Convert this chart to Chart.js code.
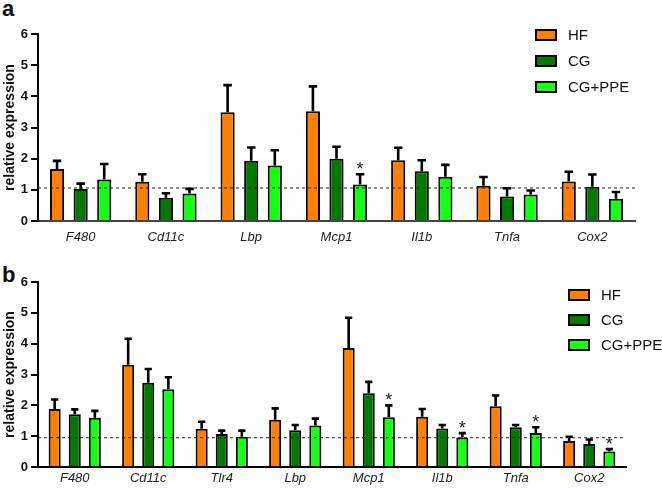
<!DOCTYPE html>
<html>
<head>
<meta charset="utf-8">
<script src="https://cdn.jsdelivr.net/npm/chart.js@4.4.1/dist/chart.umd.min.js"></script>
<style>
  html, body { margin: 0; padding: 0; background: #fff; }
  #wrap { position: relative; width: 662px; height: 490px; overflow: hidden; }
  .panel { position: absolute; left: 0; width: 662px; }
  .letter { position: absolute; font: bold 22px "Liberation Sans", Arial, sans-serif; color: #111; }
</style>
</head>
<body>
<div id="wrap">
  <div class="letter" style="left:2px;top:-4px;">a</div>
  <div class="panel" style="top:0;height:250px;"><canvas id="chartA" width="662" height="250"></canvas></div>
  <div class="letter" style="left:2px;top:262px;">b</div>
  <div class="panel" style="top:250px;height:240px;"><canvas id="chartB" width="662" height="240"></canvas></div>
</div>
<script>
// panel a
const genesA = ["F480", "Cd11c", "Lbp", "Mcp1", "Il1b", "Tnfa", "Cox2"];
const hfA = [1.67, 1.26, 3.49, 3.52, 1.95, 1.13, 1.27];
const hfErrA = [0.26, 0.24, 0.87, 0.8, 0.4, 0.28, 0.31];
const cgA = [1.03, 0.75, 1.93, 2.0, 1.6, 0.79, 1.1];
const cgErrA = [0.17, 0.14, 0.43, 0.38, 0.35, 0.26, 0.39];
const ppeA = [1.33, 0.88, 1.78, 1.17, 1.42, 0.85, 0.71];
const ppeErrA = [0.5, 0.15, 0.49, 0.33, 0.38, 0.13, 0.22];
const ppeSigA = [false, false, false, true, false, false, false];
const refLineA = 1.06;

// panel b
const genesB = ["F480", "Cd11c", "Tlr4", "Lbp", "Mcp1", "Il1b", "Tnfa", "Cox2"];
const hfB = [1.88, 3.32, 1.24, 1.53, 3.86, 1.63, 1.97, 0.84];
const hfErrB = [0.31, 0.84, 0.23, 0.37, 0.98, 0.25, 0.35, 0.14];
const cgB = [1.71, 2.73, 1.07, 1.19, 2.39, 1.25, 1.29, 0.75];
const cgErrB = [0.16, 0.45, 0.11, 0.17, 0.37, 0.11, 0.07, 0.14];
const ppeB = [1.6, 2.52, 0.98, 1.35, 1.61, 0.96, 1.1, 0.5];
const ppeErrB = [0.22, 0.39, 0.2, 0.22, 0.39, 0.14, 0.19, 0.08];
const ppeSigB = [false, false, false, false, true, true, true, true];
const refLineB = 0.95;

const yTicks = [0, 1, 2, 3, 4, 5, 6];

const FONT = '"Liberation Sans", Arial, sans-serif';
const ORANGE = "#ff8000";
const DARK = "#007a00";
const LIME = "#14ff14";

// error bars (upper half only), asterisks, dashed reference line
const extrasPlugin = {
  id: "extras",
  afterDatasetsDraw(chart, args, opts) {
    const ctx = chart.ctx;
    const y = chart.scales.y;
    const area = chart.chartArea;
    ctx.save();
    chart.data.datasets.forEach((ds, di) => {
      const meta = chart.getDatasetMeta(di);
      meta.data.forEach((bar, i) => {
        const top = y.getPixelForValue(ds.data[i] + ds.errors[i]);
        const half = bar.width * 0.3;
        ctx.strokeStyle = "#000";
        ctx.lineWidth = 2.6;
        ctx.beginPath();
        ctx.moveTo(bar.x, bar.y);
        ctx.lineTo(bar.x, top);
        ctx.moveTo(bar.x - half, top);
        ctx.lineTo(bar.x + half, top);
        ctx.stroke();
        if (ds.sig && ds.sig[i]) {
          ctx.fillStyle = "#222";
          ctx.font = "18px " + FONT;
          ctx.textAlign = "center";
          ctx.textBaseline = "alphabetic";
          ctx.fillText("*", bar.x, top + 1);
        }
      });
    });
    const ry = y.getPixelForValue(opts.refLine);
    ctx.strokeStyle = "#222";
    ctx.lineWidth = 1;
    ctx.setLineDash([3, 3]);
    ctx.beginPath();
    ctx.moveTo(area.left, ry);
    ctx.lineTo(area.right, ry);
    ctx.stroke();
    ctx.restore();
  },
  afterDraw(chart, args, opts) {
    // legend
    const ctx = chart.ctx;
    ctx.save();
    chart.data.datasets.forEach((ds, di) => {
      const cy = opts.legY + di * opts.legGap;
      ctx.fillStyle = ds.backgroundColor;
      ctx.fillRect(opts.legX, cy - 5, 20, 10);
      ctx.strokeStyle = "#000";
      ctx.lineWidth = 2;
      ctx.strokeRect(opts.legX, cy - 5, 20, 10);
      ctx.fillStyle = "#111";
      ctx.font = "15px " + FONT;
      ctx.textAlign = "left";
      ctx.textBaseline = "middle";
      ctx.fillText(ds.label, opts.legX + 32, cy + 1);
    });
    ctx.restore();
  }
};

function makeDatasets(hf, hfErr, cg, cgErr, ppe, ppeErr, ppeSig) {
  const base = { borderColor: "#000", borderWidth: 2, borderSkipped: "bottom" };
  return [
    { ...base, label: "HF", data: hf, errors: hfErr, backgroundColor: ORANGE },
    { ...base, label: "CG", data: cg, errors: cgErr, backgroundColor: DARK },
    { ...base, label: "CG+PPE", data: ppe, errors: ppeErr, sig: ppeSig, backgroundColor: LIME }
  ];
}

function makeChart(id, labels, datasets, cfg) {
  return new Chart(document.getElementById(id), {
    type: "bar",
    data: { labels: labels, datasets: datasets },
    plugins: [extrasPlugin],
    options: {
      responsive: false,
      animation: false,
      events: [],
      layout: { padding: { top: cfg.top, right: cfg.right, left: 0, bottom: 0 } },
      datasets: {
        bar: { categoryPercentage: cfg.catPct, barPercentage: 0.6 }
      },
      plugins: {
        legend: { display: false },
        tooltip: { enabled: false },
        extras: { refLine: cfg.refLine, legX: cfg.legX, legY: cfg.legY, legGap: cfg.legGap }
      },
      scales: {
        x: {
          afterFit: (s) => { s.height = cfg.xHeight; },
          grid: { display: false, drawTicks: false },
          border: { color: cfg.xAxisColor, width: 2 },
          ticks: {
            color: "#222",
            padding: cfg.xPad,
            maxRotation: 0,
            font: { family: FONT, size: 13, style: "italic" }
          }
        },
        y: {
          min: 0,
          max: 6,
          afterFit: (s) => { s.width = 38; },
          afterBuildTicks: (s) => { s.ticks = yTicks.map((v) => ({ value: v })); },
          grid: { drawOnChartArea: false, drawTicks: true, tickLength: 7, color: "#000", lineWidth: 2 },
          border: { color: "#000", width: 2 },
          ticks: {
            color: "#111",
            padding: 3,
            font: { family: FONT, size: 13, weight: "bold" }
          },
          title: {
            display: true,
            text: "relative expression",
            color: "#111",
            padding: { top: 2, bottom: 0 },
            font: { family: FONT, size: 14, weight: "bold" }
          }
        }
      }
    }
  });
}

makeChart("chartA", genesA,
  makeDatasets(hfA, hfErrA, cgA, cgErrA, ppeA, ppeErrA, ppeSigA),
  { top: 34, right: 27, xHeight: 29, xPad: 9, catPct: 0.83, refLine: refLineA,
    xAxisColor: "#444", legX: 536, legY: 35, legGap: 26 });

makeChart("chartB", genesB,
  makeDatasets(hfB, hfErrB, cgB, cgErrB, ppeB, ppeErrB, ppeSigB),
  { top: 32, right: 36, xHeight: 23, xPad: 4, catPct: 0.82, refLine: refLineB,
    xAxisColor: "#000", legX: 569, legY: 45, legGap: 25 });
</script>
</body>
</html>
